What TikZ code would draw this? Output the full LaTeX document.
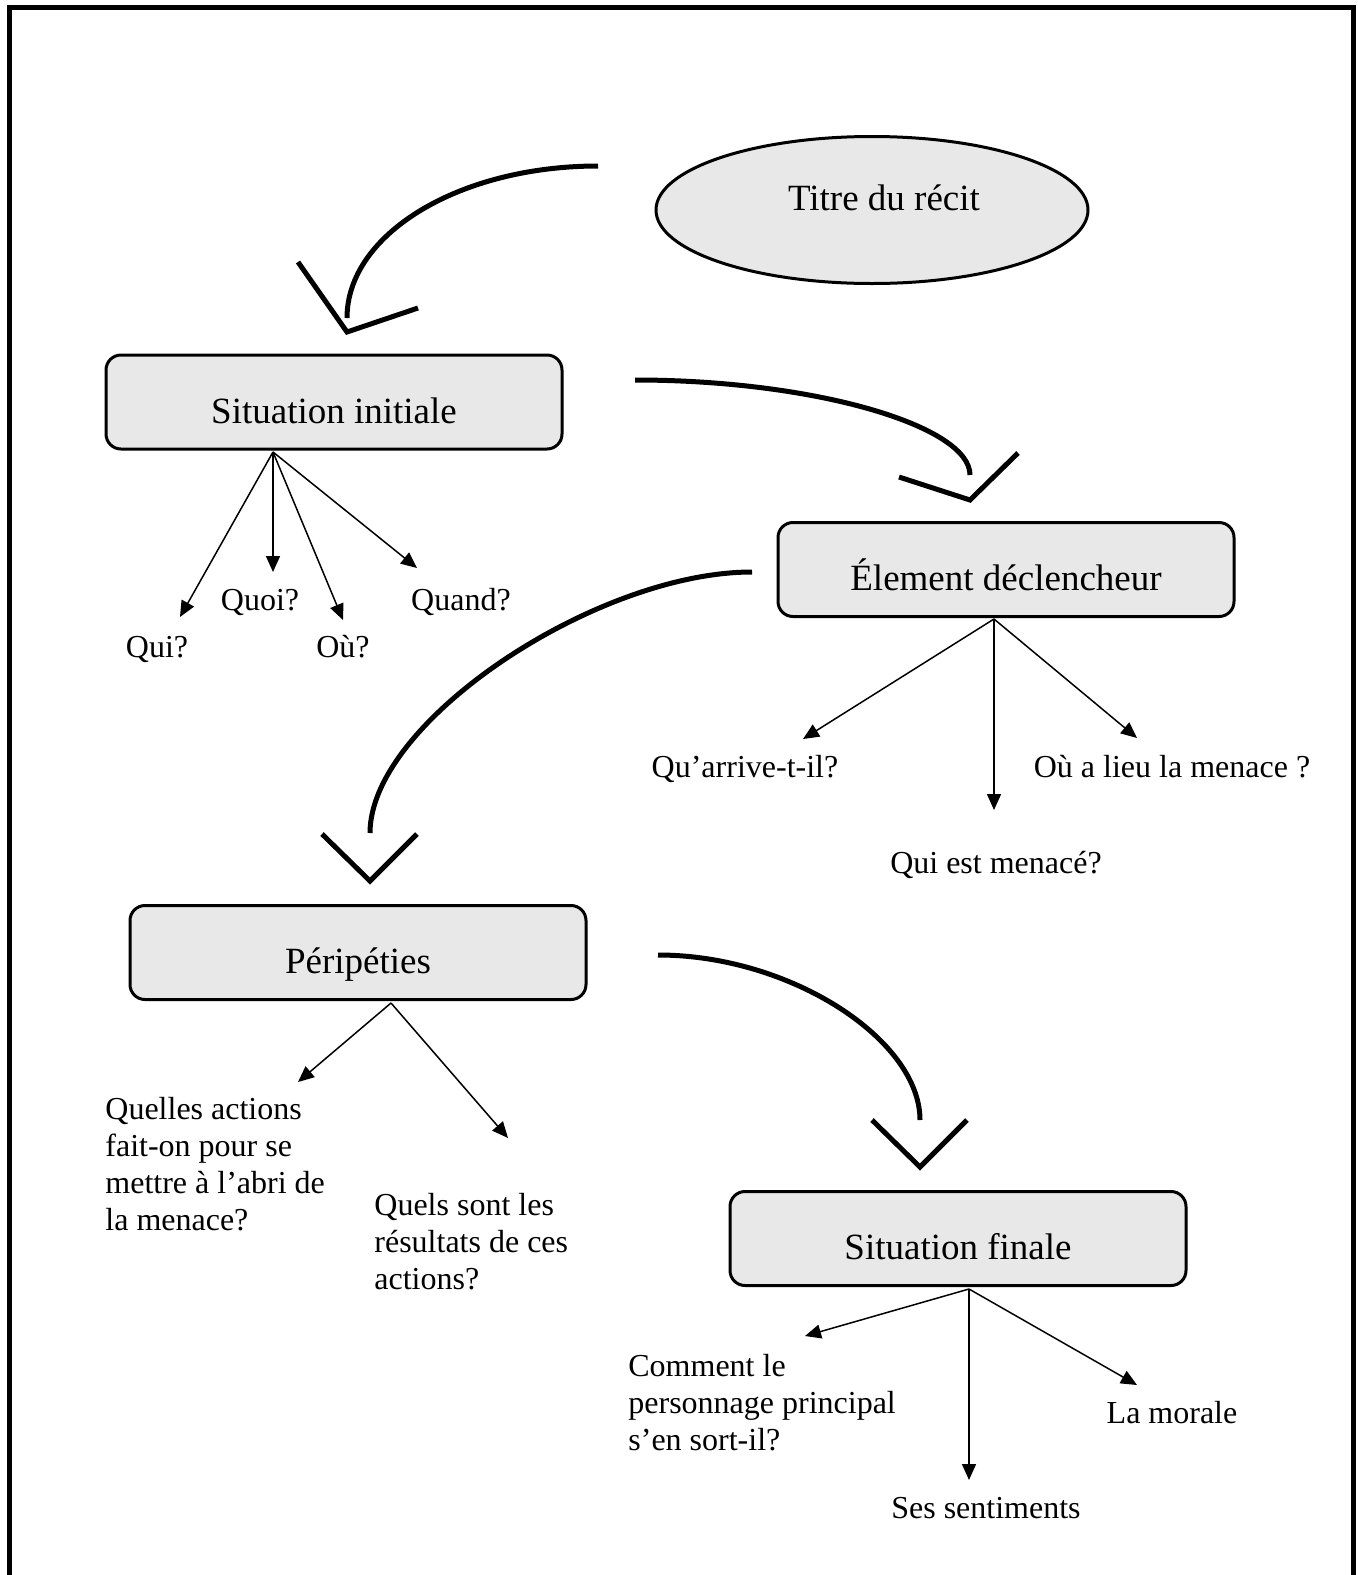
\documentclass[tikz,border=0pt]{standalone}
\usepackage{fontspec}
\setmainfont{Liberation Serif}
\usetikzlibrary{arrows.meta,shapes.geometric}
\definecolor{grisboite}{RGB}{232,232,232}
\tikzstyle{etape}=[draw,line width=1.5pt,rounded corners=7.5pt,fill=grisboite,minimum width=228pt,minimum height=47pt,inner sep=0pt,font=\fontsize{18.5}{22}\selectfont,text height=21pt,text depth=0pt]
\tikzstyle{titre}=[draw,ellipse,line width=1.5pt,fill=grisboite,minimum width=216pt,minimum height=73.5pt,inner sep=0pt,font=\fontsize{18.5}{22}\selectfont,text height=0pt,text depth=0pt]
\tikzstyle{question}=[anchor=base,inner sep=0pt,font=\fontsize{16}{18.5}\selectfont]
\tikzstyle{bloc}=[anchor=base west,align=left,inner sep=0pt,font=\fontsize{16}{18.5}\selectfont]
\tikzstyle{fleche}=[line width=0.75pt,-{Triangle[length=8pt,width=7pt]}]
\tikzstyle{courbe}=[line width=2.5pt]

\begin{document}
\begin{tikzpicture}[x=0.5pt,y=-0.5pt]
    \useasboundingbox (0,0) rectangle (1358,1575);
    \draw[line width=2.5pt] (9.5,1575) -- (9.5,7.5) -- (1353.5,7.5) -- (1353.5,1575);

    \node[titre] (titre) at (872,210) {\hspace*{12pt}Titre du récit};
    \node[etape] (si) at (334,402) {Situation initiale};
    \node[etape] (ed) at (1006,569.5) {Élement déclencheur};
    \node[etape] (pe) at (358,952.5) {Péripéties};
    \node[etape] (sf) at (958,1238.5) {Situation finale};

    % questions
    \node[question] (qui) at (157,657) {Qui?};
    \node[question] (quoi) at (260,610) {Quoi?};
    \node[question] (ou) at (343,657) {Où?};
    \node[question] (quand) at (461,610) {Quand?};
    \node[question] (arrive) at (745,777) {Qu’arrive-t-il?};
    \node[question] (menace) at (996,873) {Qui est menacé?};
    \node[question] (lieu) at (1172,777) {Où a lieu la menace ?};
    \node[bloc] (actions) at (105,1230) {Quelles actions\\fait-on pour se\\mettre à l’abri de\\la menace?};
    \node[bloc] (resultats) at (374,1289) {Quels sont les\\résultats de ces\\actions?};
    \node[bloc] (comment) at (628,1450) {Comment le\\personnage principal\\s’en sort-il?};
    \node[question] (morale) at (1172,1423) {La morale};
    \node[question] (sentiments) at (986,1518) {Ses sentiments};

    % departs et pointes des fleches
    \coordinate (o1) at (273,452);
    \coordinate (o2) at (994,619);
    \coordinate (o3) at (391,1003);
    \coordinate (o4) at (969,1289);
    \coordinate (p-qui) at (180,617);
    \coordinate (p-quoi) at (273,572);
    \coordinate (p-ou) at (343,620);
    \coordinate (p-quand) at (417,568);
    \coordinate (p-arrive) at (803,739);
    \coordinate (p-menace) at (994,810);
    \coordinate (p-lieu) at (1137,738);
    \coordinate (p-actions) at (298,1082);
    \coordinate (p-resultats) at (508,1138);
    \coordinate (p-comment) at (805,1336);
    \coordinate (p-sentiments) at (969,1480);
    \coordinate (p-morale) at (1137,1385);

    \foreach \from/\to in {o1/p-qui,o1/p-quoi,o1/p-ou,o1/p-quand,o2/p-arrive,o2/p-menace,o2/p-lieu,o3/p-actions,o3/p-resultats,o4/p-comment,o4/p-sentiments,o4/p-morale}
    \draw[fleche] (\from) -- (\to);

    % grosses fleches courbes
    \coordinate (c1a) at (598,166); \coordinate (c1b) at (347,318);
    \coordinate (c2a) at (635,380); \coordinate (c2b) at (970,475);
    \coordinate (c3a) at (752,572); \coordinate (c3b) at (370,833);
    \coordinate (c4a) at (658,955); \coordinate (c4b) at (920,1120);
    \draw[courbe] (c1a) .. controls (459,166) and (347,234) .. (c1b);
    \draw[courbe] (c2a) .. controls (815,380) and (970,426) .. (c2b);
    \draw[courbe] (c3a) .. controls (596,572) and (370,722) .. (c3b);
    \draw[courbe] (c4a) .. controls (791,955) and (920,1040) .. (c4b);
    \draw[courbe] (298,262) -- (347,332) -- (418,308);
    \draw[courbe] (899,477) -- (970,500) -- (1018,453);
    \draw[courbe] (322,834) -- (370,881) -- (417,834);
    \draw[courbe] (872,1120) -- (920,1167) -- (967,1120);
\end{tikzpicture}
\end{document}
